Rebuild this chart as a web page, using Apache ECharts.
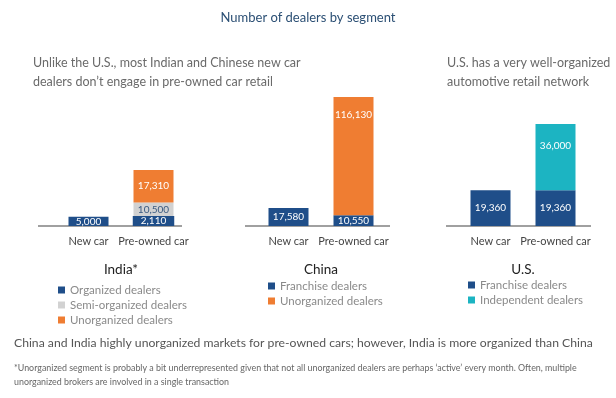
<!DOCTYPE html>
<html>
<head>
<meta charset="utf-8">
<script src="https://cdn.jsdelivr.net/npm/echarts@6/dist/echarts.min.js"></script>
<style>
html,body{margin:0;padding:0;background:#fff;}
#chart{width:616px;height:398px;}
</style>
</head>
<body>
<div id="chart"></div>
<script>
const categories = ['New car', 'Pre-owned car'];
const indiaOrganized = [5000, 2110];
const indiaSemi = ['-', 10500];
const indiaUnorganized = ['-', 17310];
const chinaFranchise = [17580, 10550];
const chinaUnorganized = ['-', 116130];
const usFranchise = [19360, 19360];
const usIndependent = ['-', 36000];

const BLUE = '#1f4e89', GRAY = '#d2d2d2', ORANGE = '#ef7d32', TEAL = '#1cb4c2';
const FONT = 'Lato';
const fmt = v => Number(v.value).toLocaleString('en-US');

const chart = echarts.init(document.getElementById('chart'), null, {renderer: 'canvas'});

function grid(left) { return {left: left, width: 130, top: 80, bottom: 172, containLabel: false}; }
function xAxis(idx, name) {
  return {
    type: 'category', gridIndex: idx, data: categories,
    axisLine: {show: false}, axisTick: {show: false},
    axisLabel: {interval: 0, color: '#444', fontSize: 11, fontFamily: FONT, margin: 10},
    name: name, nameLocation: 'middle', nameGap: 37,
    nameTextStyle: {color: '#222', fontSize: 13.5, fontFamily: FONT}
  };
}
function yAxis(idx, max) {
  return {type: 'value', gridIndex: idx, min: 0, max: max, show: false, splitLine: {show: false}};
}
function bar(name, data, idx, stack, color, label) {
  return {
    type: 'bar', name: name, data: data, xAxisIndex: idx, yAxisIndex: idx, stack: stack,
    barWidth: 40, itemStyle: {color: color},
    label: Object.assign({show: true, position: 'inside', color: '#fff', fontSize: 10, fontFamily: FONT, formatter: fmt}, label || {})
  };
}
function legend(names, left, top) {
  return {
    data: names, left: left, top: top, orient: 'vertical', icon: 'rect',
    itemWidth: 7, itemHeight: 7, itemGap: 3, selectedMode: false,
    textStyle: {color: '#8a8a8a', fontSize: 11.5, fontFamily: FONT}
  };
}
function line(x1, x2, y) {
  return {type: 'line', z: 1, shape: {x1: x1, y1: y, x2: x2, y2: y}, style: {stroke: '#a0a0a0', lineWidth: 2}};
}
function text(str, x, y, size, color, align) {
  return {type: 'text', x: x, y: y, style: {text: str, fill: color, font: size + 'px ' + FONT, textAlign: align || 'left', textVerticalAlign: 'middle'}};
}

const indiaOrgSeries = bar('Organized dealers', indiaOrganized, 0, 'india', BLUE);
indiaOrgSeries.data = indiaOrganized.map((v, i) => i === 1
  ? {value: v, label: {position: 'insideBottom', distance: 0, backgroundColor: BLUE, padding: [0, 8, 0, 8], lineHeight: 10}}
  : v);

chart.setOption({
  animation: false,
  grid: [grid(56), grid(256), grid(458)],
  xAxis: [xAxis(0, 'India*'), xAxis(1, 'China'), xAxis(2, 'U.S.')],
  yAxis: [yAxis(0, 78000), yAxis(1, 143400), yAxis(2, 79200)],
  legend: [
    legend(['Organized dealers', 'Semi-organized dealers', 'Unorganized dealers'], 53, 279),
    legend([{name: 'Franchise dealers'}, {name: 'Unorganized dealers'}], 263, 275),
    legend(['Franchise dealers', 'Independent dealers'], 463, 274)
  ],
  series: [
    indiaOrgSeries,
    bar('Semi-organized dealers', indiaSemi, 0, 'india', GRAY, {color: '#3a5a80', position: 'insideTop', distance: 2}),
    bar('Unorganized dealers', indiaUnorganized, 0, 'india', ORANGE),
    bar('Franchise dealers', chinaFranchise, 1, 'china', BLUE),
    bar('Unorganized dealers', chinaUnorganized, 1, 'china', ORANGE, {position: 'insideTop', distance: 13}),
    bar('Franchise dealers', usFranchise, 2, 'us', BLUE),
    bar('Independent dealers', usIndependent, 2, 'us', TEAL, {position: 'insideTop', distance: 17})
  ],
  graphic: [
    line(38, 182, 226), line(245, 390, 226), line(446, 591, 226),
    text('Number of dealers by segment', 308, 18, 13, '#2b4f74', 'center'),
    text('Unlike the U.S., most Indian and Chinese new car', 33, 63, 12.5, '#6a6a6a'),
    text('dealers don\u2019t engage in pre-owned car retail', 33, 82, 12.5, '#6a6a6a'),
    text('U.S. has a very well-organized', 447, 63, 12.5, '#6a6a6a'),
    text('automotive retail network', 447, 82, 12.5, '#6a6a6a'),
    text('China and India highly unorganized markets for pre-owned cars; however, India is more organized than China', 14, 343, 12.2, '#555'),
    text('*Unorganized segment is probably a bit underrepresented given that not all unorganized dealers are perhaps \u2018active\u2019 every month. Often, multiple', 14, 368, 8.9, '#666'),
    text('unorganized brokers are involved in a single transaction', 14, 382, 8.9, '#666')
  ]
});
</script>
</body>
</html>
